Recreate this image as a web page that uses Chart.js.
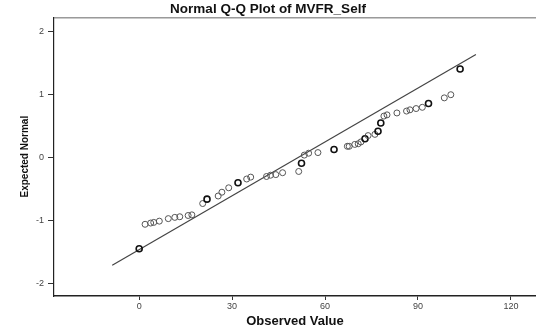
<!DOCTYPE html>
<html>
<head>
<meta charset="utf-8">
<script src="https://cdn.jsdelivr.net/npm/chart.js@4/dist/chart.umd.min.js"></script>
<style>
    html, body { margin: 0; padding: 0; background: #ffffff; }
    #grafico { width: 536px; height: 333px; }
</style>
</head>
<body>
<div id="grafico"><canvas id="qqPlot"></canvas></div>
<script>
// valores
const observado = [0, 1.9, 3.7, 4.7, 6.5, 9.4, 11.5, 13.1, 15.8, 17, 20.5, 21.9, 25.5, 26.7, 28.9, 31.9, 34.7, 36,
    41.1, 42.4, 44.1, 46.3, 51.5, 52.4, 53.3, 54.7, 57.7, 62.9, 67.2, 67.8, 69.6, 70.7, 71.6, 72.9, 73.9, 76.1,
    77.1, 78, 79, 80, 83.2, 86.3, 87.4, 89.4, 91.4, 93.4, 98.5, 100.6, 103.6];
const esperado = [-1.45, -1.06, -1.04, -1.03, -1.01, -0.97, -0.95, -0.94, -0.92, -0.91, -0.73, -0.66, -0.61, -0.55,
    -0.48, -0.40, -0.34, -0.31, -0.30, -0.28, -0.27, -0.24, -0.22, -0.09, 0.04, 0.07, 0.08, 0.13, 0.18, 0.18, 0.21,
    0.22, 0.25, 0.30, 0.35, 0.37, 0.42, 0.55, 0.66, 0.68, 0.71, 0.74, 0.76, 0.78, 0.80, 0.86, 0.95, 1.00, 1.41];
// pontos repetidos (circulo mais escuro)
const repetidos = [0, 11, 15, 23, 27, 33, 36, 37, 45, 48];

const linhaX = [-8.7, 108.7];
const linhaY = [-1.71, 1.64];

const ticksX = [0, 30, 60, 90, 120];
const ticksY = [-2, -1, 0, 1, 2];

const pontos = observado.map((x, i) => ({ x: x, y: esperado[i] }));
const linha  = linhaX.map((x, i) => ({ x: x, y: linhaY[i] }));

const bordaTopo = {
    id: 'bordaTopo',
    afterDraw(chart) {
        const { ctx, chartArea } = chart;
        ctx.save();
        ctx.strokeStyle = '#666';
        ctx.lineWidth = 1;
        ctx.beginPath();
        ctx.moveTo(chartArea.left, chartArea.top + 0.5);
        ctx.lineTo(chartArea.right, chartArea.top + 0.5);
        ctx.stroke();
        ctx.restore();
    }
};

const fonteTick = { family: 'Liberation Sans', size: 9 };

new Chart(document.getElementById('qqPlot'), {
    type: 'scatter',
    data: {
        datasets: [
            {
                data: pontos,
                order: 0,
                pointRadius: 3,
                pointBackgroundColor: 'rgba(255,255,255,0)',
                pointBorderColor: ctx => repetidos.includes(ctx.dataIndex) ? '#111' : '#555',
                pointBorderWidth: ctx => repetidos.includes(ctx.dataIndex) ? 1.6 : 1,
            },
            {
                type: 'line',
                data: linha,
                order: 1,
                borderColor: '#444',
                borderWidth: 1.2,
                pointRadius: 0,
                fill: false,
            }
        ]
    },
    options: {
        responsive: true,
        maintainAspectRatio: false,
        animation: false,
        layout: { padding: 0, autoPadding: false },
        plugins: {
            legend: { display: false },
            tooltip: { enabled: false },
            title: {
                display: true,
                text: 'Normal Q-Q Plot of MVFR_Self',
                color: '#111',
                font: { family: 'Liberation Sans', size: 13.5, weight: 'bold', lineHeight: 1.1 },
                padding: { top: 1.5, bottom: 1 }
            }
        },
        scales: {
            x: {
                type: 'linear',
                min: -27.5,
                max: 128.1,
                afterBuildTicks: scale => { scale.ticks = ticksX.map(v => ({ value: v })); },
                afterFit: scale => {
                    scale.height = 37;
                    scale.paddingLeft = 0;
                    scale.paddingRight = 0;
                },
                ticks: { font: fonteTick, color: '#444', padding: 1, maxRotation: 0 },
                grid: { drawOnChartArea: false, drawTicks: true, tickLength: 4, color: '#333' },
                border: { display: true, color: '#222', width: 1.5 },
                title: {
                    display: true,
                    text: 'Observed Value',
                    color: '#111',
                    font: { family: 'Liberation Sans', size: 13, weight: 'bold', lineHeight: 1.2 },
                    padding: { top: 0, bottom: 4 }
                }
            },
            y: {
                type: 'linear',
                min: -2.2,
                max: 2.23,
                afterBuildTicks: scale => { scale.ticks = ticksY.map(v => ({ value: v })); },
                afterFit: scale => { scale.width = 54; },
                ticks: { font: fonteTick, color: '#444', padding: 4 },
                grid: { drawOnChartArea: false, drawTicks: true, tickLength: 6, color: '#333' },
                border: { display: true, color: '#222', width: 1.2 },
                title: {
                    display: true,
                    text: 'Expected Normal',
                    color: '#111',
                    font: { family: 'Liberation Sans', size: 10, weight: 'bold', lineHeight: 1.2 },
                    padding: { top: 19, bottom: 0 }
                }
            }
        }
    },
    plugins: [bordaTopo]
});
</script>
</body>
</html>
